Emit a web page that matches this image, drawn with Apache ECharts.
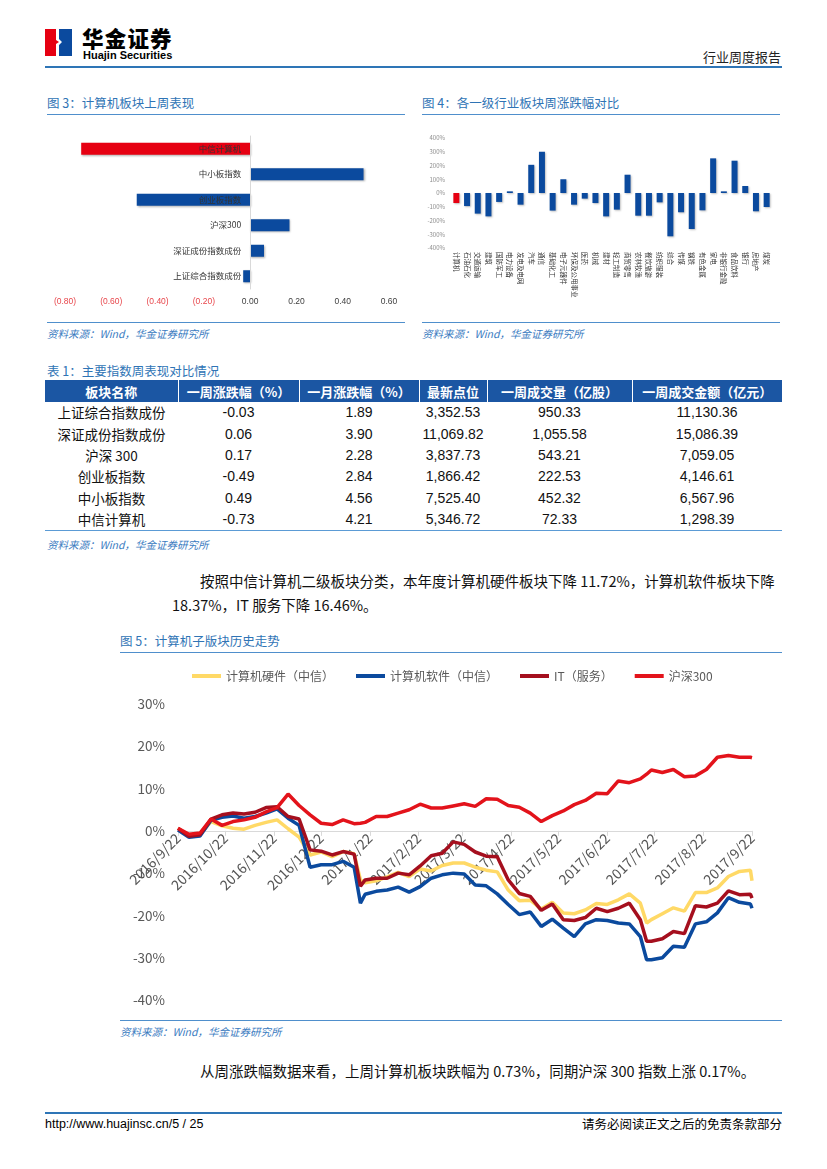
<!DOCTYPE html>
<html>
<head>
<meta charset="utf-8">
<script src="https://cdn.jsdelivr.net/npm/echarts@6/dist/echarts.min.js"></script>
<style>
html,body{margin:0;padding:0;background:#fff;}
body{width:827px;height:1169px;position:relative;overflow:hidden;font-family:"Noto Sans CJK SC","Noto Sans",sans-serif;color:#000;}
.abs{position:absolute;white-space:nowrap;}
.ftitle{font-size:12.5px;color:#2f74b5;line-height:14px;}
.hline{position:absolute;height:1px;background:#4f8fcc;}
.src{font-size:10.5px;color:#3a7bbf;font-style:italic;line-height:12px;}
.para{font-size:14.5px;line-height:17px;color:#111;}
#tbl{position:absolute;left:45px;top:380px;width:737px;border-collapse:collapse;table-layout:fixed;}
#tbl th{background:#1b56a3;color:#fff;font-weight:bold;font-size:13px;height:22px;padding:0;text-align:center;border-left:1px solid #fff;}
#tbl th:first-child{border-left:none;}
#tbl td{font-size:13.5px;height:21.4px;padding:0;text-align:center;line-height:21px;color:#111;}
#tbl td.num{font-family:"Liberation Sans Narrow","Liberation Sans",sans-serif;font-size:14px;}
#tbl tr:last-child td{border-bottom:1.5px solid #5b9bd5;}
#chart{position:absolute;left:0;top:0;width:827px;height:1169px;z-index:2;}
</style>
</head>
<body>
<!-- header -->
<svg class="abs" style="left:45px;top:29px" width="28" height="28" viewBox="0 0 28 28">
  <polygon points="0,0 11,0 11,11 14,13 11,15 11,27 0,27" fill="#e60012"/>
  <polygon points="14,0 27,0 27,27 14,27 14,16 17,13 14,10" fill="#0b4a9e"/>
</svg>
<div class="abs" style="left:82px;top:26px;font-size:21.5px;font-weight:900;letter-spacing:1.2px;line-height:23px;">华金证券</div>
<div class="abs" style="left:83px;top:50px;font-size:11px;font-weight:bold;font-family:'Liberation Sans Narrow','Liberation Sans',sans-serif;line-height:11px;">Huajin Securities</div>
<div class="abs" style="right:46px;top:49px;font-size:13px;line-height:16px;color:#222;">行业周度报告</div>
<div class="hline" style="left:45px;top:66px;width:737px;height:2px;background:#2e75b6;"></div>

<!-- fig3 / fig4 titles -->
<div class="abs ftitle" style="left:47px;top:96px;">图 3：计算机板块上周表现</div>
<div class="hline" style="left:47px;top:114px;width:358px;"></div>
<div class="abs ftitle" style="left:422px;top:96px;">图 4：各一级行业板块周涨跌幅对比</div>
<div class="hline" style="left:422px;top:114px;width:358px;"></div>
<div class="hline" style="left:47px;top:322px;width:358px;"></div>
<div class="abs src" style="left:47px;top:328px;">资料来源：Wind，华金证券研究所</div>
<div class="hline" style="left:422px;top:322px;width:358px;"></div>
<div class="abs src" style="left:422px;top:328px;">资料来源：Wind，华金证券研究所</div>

<!-- table -->
<div class="abs ftitle" style="left:47px;top:364px;">表 1：主要指数周表现对比情况</div>
<table id="tbl">
  <colgroup><col style="width:133px"><col style="width:121px"><col style="width:120px"><col style="width:68px"><col style="width:145px"><col style="width:150px"></colgroup>
  <thead><tr id="thead"></tr></thead>
  <tbody id="tbody"></tbody>
</table>
<div class="abs src" style="left:47px;top:539px;">资料来源：Wind，华金证券研究所</div>

<div class="abs para" style="left:200px;top:572px;">按照中信计算机二级板块分类，本年度计算机硬件板块下降 11.72%，计算机软件板块下降</div>
<div class="abs para" style="left:172px;top:596px;">18.37%，IT 服务下降 16.46%。</div>

<!-- fig5 -->
<div class="abs ftitle" style="left:120px;top:634px;">图 5：计算机子版块历史走势</div>
<div class="hline" style="left:120px;top:652px;width:662px;"></div>
<div class="hline" style="left:120px;top:1020px;width:662px;"></div>
<div class="abs src" style="left:120px;top:1026px;">资料来源：Wind，华金证券研究所</div>
<div class="abs para" style="left:200px;top:1062px;">从周涨跌幅数据来看，上周计算机板块跌幅为 0.73%，同期沪深 300 指数上涨 0.17%。</div>

<!-- footer -->
<div class="hline" style="left:45px;top:1112px;width:737px;height:1.5px;background:#2e75b6;"></div>
<div class="abs" style="left:45px;top:1117px;font-size:12.5px;line-height:14px;font-family:'Liberation Sans','Noto Sans CJK SC',sans-serif;">http://www.huajinsc.cn/5 / 25</div>
<div class="abs" style="right:45px;top:1117px;font-size:12.5px;line-height:14px;">请务必阅读正文之后的免责条款部分</div>

<div id="chart"></div>
<script>
// ---------- Figure 3 data ----------
var fig3Categories = ['上证综合指数成份','深证成份指数成份','沪深300','创业板指数','中小板指数','中信计算机'];
var fig3Values = [-0.03, 0.06, 0.17, -0.49, 0.49, -0.73];

// ---------- Figure 4 data ----------
var fig4Categories = ['计算机','石油石化','交通运输','建筑','国防军工','电力设备','发电及电网','汽车','通信','基础化工','电子元器件','环保及公用事业','医药','机械','建材','轻工制造','商贸零售','农林牧渔','餐饮旅游','纺织服装','综合','传媒','钢铁','有色金属','家电','非银行金融','食品饮料','银行','房地产','煤炭'];
var fig4Values = [-73,-95,-150,-170,-65,12,-85,205,300,-128,100,-85,-41,-73,-170,-121,133,-165,-165,-68,-315,-140,-262,-126,252,12,235,51,-133,-102];

// ---------- Table 1 data ----------
var tableHeaders = ['板块名称','一周涨跌幅（%）','一月涨跌幅（%）','最新点位','一周成交量（亿股）','一周成交金额（亿元）'];
var tableNames = ['上证综合指数成份','深证成份指数成份','沪深 300','创业板指数','中小板指数','中信计算机'];
var tableWeek = ['-0.03','0.06','0.17','-0.49','0.49','-0.73'];
var tableMonth = ['1.89','3.90','2.28','2.84','4.56','4.21'];
var tableLatest = ['3,352.53','11,069.82','3,837.73','1,866.42','7,525.40','5,346.72'];
var tableVolume = ['950.33','1,055.58','543.21','222.53','452.32','72.33'];
var tableAmount = ['11,130.36','15,086.39','7,059.05','4,146.61','6,567.96','1,298.39'];

// ---------- Figure 5 data ----------
var fig5Dates = ['2016-09-22','2016-09-29','2016-10-06','2016-10-13','2016-10-20','2016-10-27','2016-11-03','2016-11-10','2016-11-17','2016-11-24','2016-12-01','2016-12-08','2016-12-15','2016-12-22','2016-12-29','2017-01-05','2017-01-12','2017-01-16','2017-01-19','2017-01-26','2017-02-02','2017-02-09','2017-02-16','2017-02-23','2017-03-02','2017-03-09','2017-03-16','2017-03-23','2017-03-30','2017-04-06','2017-04-13','2017-04-20','2017-04-27','2017-05-04','2017-05-11','2017-05-18','2017-05-25','2017-06-01','2017-06-08','2017-06-15','2017-06-22','2017-06-29','2017-07-06','2017-07-13','2017-07-17','2017-07-20','2017-07-27','2017-08-03','2017-08-10','2017-08-17','2017-08-24','2017-08-31','2017-09-07','2017-09-14','2017-09-21','2017-09-22'];
var fig5Hardware = [0.6,-1.2,-0.8,2.2,1.2,0.6,0.4,1.3,2.0,2.6,0.5,-1.5,-5.7,-5.0,-6.1,-4.9,-5.4,-11.6,-12.3,-11.8,-10.9,-9.8,-10.8,-9.0,-9.5,-8.2,-7.6,-7.6,-8.6,-9.3,-9.7,-14.0,-16.5,-16.4,-18.5,-16.9,-19.4,-19.6,-18.7,-17.2,-17.4,-16.3,-14.9,-17.1,-21.8,-21.0,-19.6,-18.2,-19.0,-14.6,-14.6,-13.5,-10.8,-9.6,-9.3,-11.8];
var fig5Software = [0.2,-1.5,-1.2,2.5,3.2,3.5,3.0,3.4,4.2,5.2,3.0,1.3,-8.6,-8.0,-8.0,-7.2,-8.6,-17.1,-15.0,-14.3,-14.0,-13.3,-14.5,-13.2,-11.2,-10.4,-10.0,-10.2,-12.8,-13.0,-14.9,-17.4,-19.8,-19.2,-22.6,-20.9,-23.0,-25.0,-22.0,-21.0,-21.2,-21.8,-22.0,-25.0,-30.5,-30.5,-30.0,-27.3,-27.5,-22.0,-21.5,-19.4,-15.8,-16.9,-17.3,-18.3];
var fig5ITService = [0.6,-1.3,-0.9,2.8,3.8,4.2,4.0,4.4,5.5,5.7,3.4,2.8,-4.5,-4.8,-5.7,-4.9,-5.5,-13.1,-11.6,-11.2,-11.2,-10.0,-10.4,-8.3,-5.9,-5.3,-2.6,-3.2,-5.0,-6.0,-6.1,-11.6,-14.8,-15.5,-18.8,-17.3,-21.0,-21.2,-20.5,-18.3,-19.1,-18.3,-17.1,-21.0,-26.1,-26.1,-25.5,-23.8,-24.3,-17.7,-18.0,-17.1,-14.2,-15.1,-15.0,-15.9];
var fig5HS300 = [0.6,-0.8,-0.5,2.8,1.3,2.2,2.6,3.2,4.5,5.5,8.7,6.0,3.8,1.8,1.5,2.6,1.7,1.8,2.0,3.4,3.4,4.2,5.0,6.3,5.4,5.4,5.9,6.4,5.8,7.6,7.5,6.0,5.6,4.2,2.2,3.6,4.7,6.2,7.2,8.9,8.8,11.8,11.4,12.3,13.4,14.4,13.8,14.5,12.8,13.0,14.5,17.4,17.8,17.4,17.4,17.3];
var fig5SeriesNames = ['计算机硬件（中信）','计算机软件（中信）','IT（服务）','沪深300'];
var fig5TickDates = ['2016-09-22','2016-10-22','2016-11-22','2016-12-22','2017-01-22','2017-02-22','2017-03-22','2017-04-22','2017-05-22','2017-06-22','2017-07-22','2017-08-22','2017-09-22'];

// ---------- build table ----------
(function(){
  var th = document.getElementById('thead');
  tableHeaders.forEach(function(h){ var c=document.createElement('th'); c.textContent=h; th.appendChild(c); });
  var tb = document.getElementById('tbody');
  for (var i=0;i<tableNames.length;i++){
    var tr=document.createElement('tr');
    [tableNames[i],tableWeek[i],tableMonth[i],tableLatest[i],tableVolume[i],tableAmount[i]].forEach(function(v,j){
      var td=document.createElement('td'); td.textContent=v; if(j>0) td.className='num'; tr.appendChild(td);
    });
    tb.appendChild(tr);
  }
})();

function toTs(s){ var p=s.split('-'); return new Date(+p[0], +p[1]-1, +p[2]).getTime(); }
var FONT = "'Noto Sans CJK SC','Noto Sans',sans-serif";
var cRed = '#e60012', cBlue = '#0b4a9e';
var tickTs = fig5TickDates.map(toTs);

// grid geometry
var g3 = {left:65, top:136, width:324, height:153, xMin:-0.8, xMax:0.6};
var g5 = {left:178, top:704, width:574, height:296, yMin:-40, yMax:30};
// offsets that put the category axis of fig3 and the date axis of fig5 on the zero line
var fig3AxisOffset = -(0 - g3.xMin) / (g3.xMax - g3.xMin) * g3.width;
var fig5AxisOffset = -(0 - g5.yMin) / (g5.yMax - g5.yMin) * g5.height;

var chart = echarts.init(document.getElementById('chart'), null, {renderer:'canvas', width:827, height:1169});
var opt = {
  animation:false,
  textStyle:{fontFamily:FONT},
  legend:{
    data:fig5SeriesNames, left:192, top:670, icon:'rect', itemWidth:29, itemHeight:4, itemGap:22, padding:0,
    textStyle:{fontSize:12, color:'#595959', fontFamily:FONT}
  },
  grid:[
    {left:g3.left, top:g3.top, width:g3.width, height:g3.height},
    {left:451, top:138, width:321, height:110},
    {left:g5.left, top:g5.top, width:g5.width, height:g5.height}
  ],
  xAxis:[
    {gridIndex:0, type:'value', min:g3.xMin, max:g3.xMax, interval:0.2,
     axisLine:{show:false}, axisTick:{show:false}, splitLine:{show:false},
     axisLabel:{fontSize:8.5, margin:8, fontFamily:"'Liberation Sans',sans-serif",
       color:function(v){ return parseFloat(v) < 0 ? '#e8474c' : '#404040'; },
       formatter:function(v){ return v < -1e-9 ? '(' + Math.abs(v).toFixed(2) + ')' : v.toFixed(2); }}},
    {gridIndex:1, type:'category', data:fig4Categories, position:'bottom',
     axisLine:{show:false, onZero:false}, axisTick:{show:false},
     axisLabel:{rotate:-90, interval:0, fontSize:6.5, margin:4, color:'#333'}},
    {gridIndex:2, type:'value', min:tickTs[0], max:tickTs[tickTs.length-1], position:'bottom', offset:fig5AxisOffset,
     axisLine:{show:true, onZero:false, lineStyle:{color:'#d9d9d9', width:1}},
     axisTick:{show:true, length:5, lineStyle:{color:'#d9d9d9'}, customValues:tickTs},
     splitLine:{show:false},
     axisLabel:{rotate:45, fontSize:14, color:'#555', margin:5, hideOverlap:false,
       customValues:tickTs,
       formatter:function(v){ var d=new Date(v); return d.getFullYear()+'/'+(d.getMonth()+1)+'/'+d.getDate(); }}}
  ],
  yAxis:[
    {gridIndex:0, type:'category', data:fig3Categories, position:'left', offset:fig3AxisOffset, z:10,
     axisLine:{show:true, onZero:false, lineStyle:{color:'#d9d9d9'}}, axisTick:{show:false},
     axisLabel:{fontSize:8.5, color:'#333', margin:9}},
    {gridIndex:1, type:'value', min:-400, max:400, interval:100,
     axisLine:{show:false}, axisTick:{show:false}, splitLine:{show:false},
     axisLabel:{fontSize:6, color:'#8c8c8c', margin:6, formatter:'{value}%'}},
    {gridIndex:2, type:'value', min:g5.yMin, max:g5.yMax, interval:10,
     axisLine:{show:false}, axisTick:{show:false}, splitLine:{show:false},
     axisLabel:{fontSize:13.5, color:'#595959', margin:13, formatter:'{value}%'}}
  ],
  series:[
    {type:'bar', xAxisIndex:0, yAxisIndex:0, barWidth:12, z:2,
     data:fig3Values.map(function(v,i){ return {value:v, itemStyle:{color: fig3Categories[i]==='中信计算机'?cRed:cBlue}}; }),
     itemStyle:{shadowColor:'rgba(0,0,0,0.3)', shadowBlur:2, shadowOffsetX:1, shadowOffsetY:1}},
    {type:'bar', xAxisIndex:1, yAxisIndex:1, barWidth:6,
     data:fig4Values.map(function(v,i){ return {value:v, itemStyle:{color: i===0?cRed:cBlue}}; }),
     itemStyle:{shadowColor:'rgba(0,0,0,0.25)', shadowBlur:2, shadowOffsetX:1, shadowOffsetY:1}},
    {name:fig5SeriesNames[0], type:'line', xAxisIndex:2, yAxisIndex:2, showSymbol:false, color:'#ffd966',
     lineStyle:{width:3.5, color:'#ffd966'}, data:fig5Dates.map(function(d,i){return [toTs(d), fig5Hardware[i]];})},
    {name:fig5SeriesNames[1], type:'line', xAxisIndex:2, yAxisIndex:2, showSymbol:false, color:'#0b4a9e',
     lineStyle:{width:3.5, color:'#0b4a9e'}, data:fig5Dates.map(function(d,i){return [toTs(d), fig5Software[i]];})},
    {name:fig5SeriesNames[2], type:'line', xAxisIndex:2, yAxisIndex:2, showSymbol:false, color:'#a50f1e',
     lineStyle:{width:3.5, color:'#a50f1e'}, data:fig5Dates.map(function(d,i){return [toTs(d), fig5ITService[i]];})},
    {name:fig5SeriesNames[3], type:'line', xAxisIndex:2, yAxisIndex:2, showSymbol:false, color:'#e3131b',
     lineStyle:{width:3.5, color:'#e3131b'}, data:fig5Dates.map(function(d,i){return [toTs(d), fig5HS300[i]];})}
  ]
};
chart.setOption(opt);
</script>
</body>
</html>
